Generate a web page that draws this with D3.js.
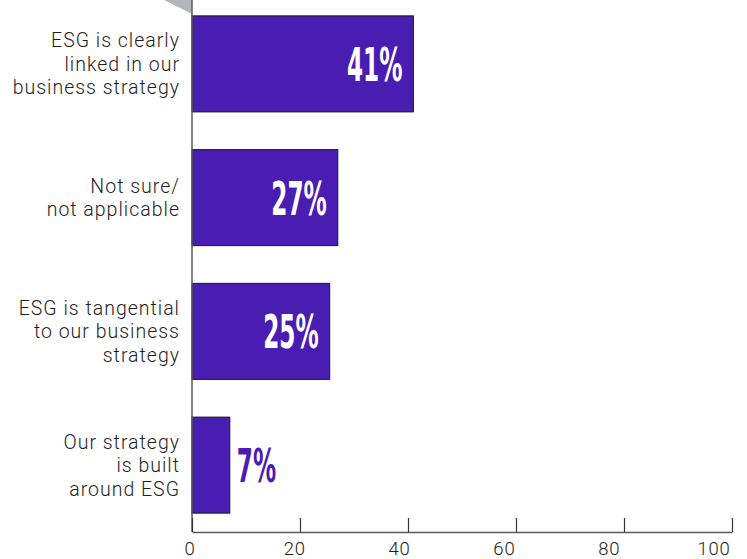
<!DOCTYPE html>
<html>
<head>
<meta charset="utf-8">
<script src="https://cdn.jsdelivr.net/npm/d3@7"></script>
<style>
  html, body { margin: 0; padding: 0; background: #fff; }
  svg { display: block; }
</style>
</head>
<body>
<svg id="chart" width="747" height="559"></svg>
<script>
// ---- data ----
const categories = [
  ["ESG is clearly", "linked in our", "business strategy"],
  ["Not sure/", "not applicable"],
  ["ESG is tangential", "to our business", "strategy"],
  ["Our strategy", "is built", "around ESG"]
];
const values = [41, 27, 25.5, 7];
const valueLabels = ["41%", "27%", "25%", "7%"];
const xTicks = [0, 20, 40, 60, 80, 100];

// ---- setup ----
const svg = d3.select("#chart");
const barColor = "#4a1db2";
const axisColor = "#5a5a5a";

const x = d3.scaleLinear().domain([0, 100]).range([192, 732]);
const xLabel = d3.scaleLinear().domain([0, 100]).range([190, 714]);
const y = d3.scaleBand()
  .domain(d3.range(categories.length))
  .range([-3, 532])
  .paddingInner(0.282)
  .paddingOuter(0.141);

// decorative grey corner
svg.append("polygon")
  .attr("points", "164,0 192,0 192,14")
  .attr("fill", "#b4b7ba");

// bars
svg.selectAll("rect.bar")
  .data(values)
  .join("rect")
  .attr("class", "bar")
  .attr("x", x(0))
  .attr("y", (d, i) => y(i))
  .attr("width", d => x(d) - x(0))
  .attr("height", y.bandwidth())
  .attr("fill", barColor)
  .attr("stroke", "#1a1a1a")
  .attr("stroke-width", 1);

// left axis line
svg.append("line")
  .attr("x1", x(0)).attr("x2", x(0))
  .attr("y1", 0).attr("y2", 532)
  .attr("stroke", axisColor).attr("stroke-width", 1.5);

// bottom axis
const xAxis = d3.axisBottom(x).tickValues(xTicks).tickSizeInner(-14).tickSizeOuter(0).tickFormat("");
const gx = svg.append("g").attr("transform", "translate(0,532)").call(xAxis);
gx.select(".domain").attr("stroke", axisColor).attr("stroke-width", 1.5);
gx.selectAll(".tick line").attr("stroke", "#333").attr("stroke-width", 1.2);

svg.selectAll("text.xtick")
  .data(xTicks)
  .join("text")
  .attr("class", "xtick")
  .attr("x", d => xLabel(d))
  .attr("y", 555)
  .attr("text-anchor", "middle")
  .attr("font-family", "Roboto, 'Liberation Sans', sans-serif")
  .attr("font-weight", 300)
  .attr("font-size", 18.5)
  .attr("letter-spacing", 0.8)
  .attr("fill", "#222")
  .text(d => d);

// category labels
const lineH = 23.5;
categories.forEach((lines, i) => {
  const cy = y(i) + y.bandwidth() / 2;
  const t = svg.append("text")
    .attr("text-anchor", "end")
    .attr("font-family", "Roboto, 'Liberation Sans', sans-serif")
    .attr("font-weight", 300)
    .attr("font-size", 19.5)
    .attr("letter-spacing", 1)
    .attr("fill", "#1e1e1e");
  const n = lines.length;
  lines.forEach((ln, j) => {
    t.append("tspan")
      .attr("x", 180)
      .attr("y", cy + (j - (n - 1) / 2) * lineH + 7)
      .text(ln);
  });
});

// value labels
values.forEach((v, i) => {
  const cy = y(i) + y.bandwidth() / 2;
  const inside = v > 10;
  const tx = inside ? x(v) - 11 : x(v) + 7;
  svg.append("text")
    .attr("transform", `translate(${tx},${cy + 17}) scale(0.56,1)`)
    .attr("text-anchor", inside ? "end" : "start")
    .attr("font-family", "'Liberation Sans Narrow', 'DejaVu Sans Condensed', sans-serif")
    .attr("font-weight", 700)
    .attr("font-size", 46)
    .attr("fill", inside ? "#ffffff" : barColor)
    .text(valueLabels[i]);
});
</script>
</body>
</html>
